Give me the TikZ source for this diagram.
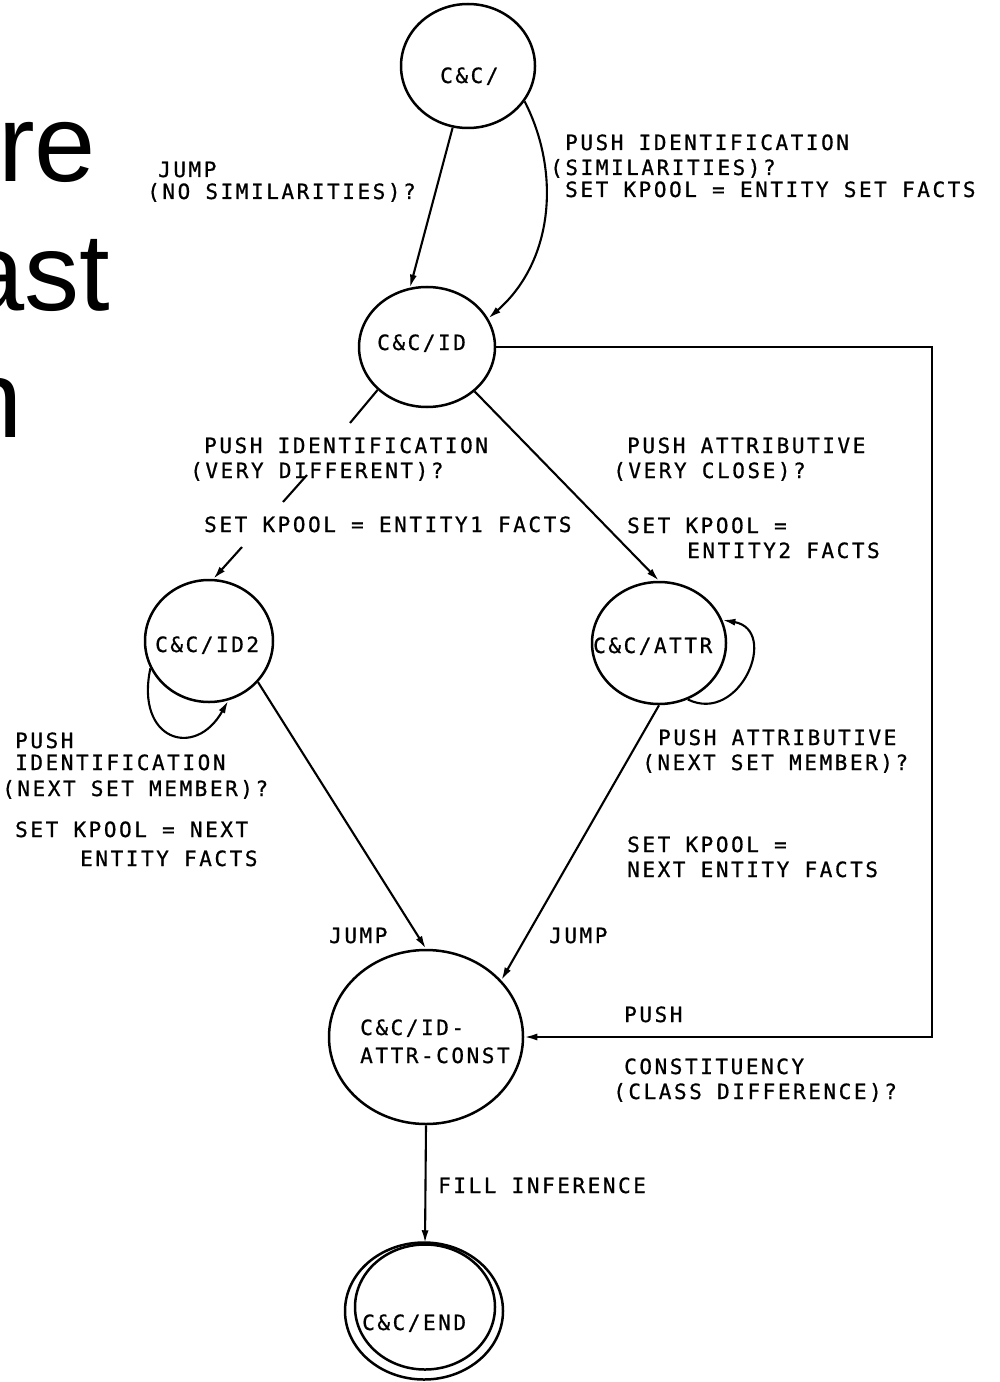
\documentclass[tikz,border=0pt]{standalone}
\usepackage{fontspec}
\usetikzlibrary{shapes.geometric,arrows.meta}
\newfontfamily\twfont[LetterSpace=12.2,FakeBold=0.8]{DejaVu Sans Mono}
\newfontfamily\slidefont{Liberation Sans}
\begin{document}
\begin{tikzpicture}[x=1bp,y=-1bp,
  st/.style={draw, ellipse, line width=2.5bp, inner sep=0pt},
  lab/.style={anchor=base west, inner sep=0pt, font=\twfont\fontsize{21bp}{21bp}\selectfont},
  slide/.style={anchor=base west, inner sep=0pt, font=\slidefont\fontsize{110bp}{110bp}\selectfont},
  ln/.style={line width=2.1bp},
  arr/.style={line width=2.1bp, -{Latex[length=13bp,width=7bp]}}]
\useasboundingbox (0,0) rectangle (999,1382);
\clip (0,0) rectangle (999,1382);

% slide text fragments
\node[slide] (s1) at (-2,182) {re};
\node[slide] (s2) at (-37,310) {ast};
\node[slide] (s3) at (-39,437) {n};

% states
\node[st, minimum width=134bp, minimum height=124bp] (A) at (468,66) {};
\node[st, minimum width=136bp, minimum height=120bp] (B) at (427,347) {};
\node[st, minimum width=128bp, minimum height=122bp] (C) at (209,641) {};
\node[st, minimum width=134bp, minimum height=122bp] (D) at (659,643) {};
\node[st, minimum width=194bp, minimum height=174bp] (E) at (426,1037) {};
\node[st, minimum width=140bp, minimum height=125bp] (F) at (425,1307) {};
\node[st, minimum width=158bp, minimum height=137bp] (F2) at (424,1311) {};

\node[lab] (tA) at (440,83) {C\&C/};
\node[lab] (tB) at (377,350) {C\&C/ID};
\node[lab] (tC) at (155,652) {C\&C/ID2};
\node[lab] (tD) at (593,653) {C\&C/ATTR};
\node[lab] (tE1) at (360,1035) {C\&C/ID-};
\node[lab] (tE2) at (360,1063) {ATTR-CONST};
\node[lab] (tF) at (362,1330) {C\&C/END};

% connectors
\draw[arr] (A.-104) -- (B.106);
\draw[arr] (A.-32) .. controls (560,170) and (555,260) .. (B.25);
\coordinate (b1) at (350,423);
\coordinate (b2) at (307,475);
\coordinate (b3) at (283,502);
\coordinate (b4) at (242,547);
\draw[ln] (B.-139) -- (b1);
\draw[ln] (b2) -- (b3);
\draw[arr] (b4) -- (C.86);
\draw[arr] (B.-43) -- (D.90);
\coordinate (vx) at (932,700);
\draw[arr] (B.east) -| (vx) |- (E.east);
\draw[arr] (C.-155) .. controls (135,740) and (195,760) .. (C.-72);
\draw[arr] (D.-63) .. controls (740,725) and (780,630) .. (D.20);
\draw[arr] (C.-40) -- (E.90);
\draw[arr] (D.-90) -- (E.37);
\draw[arr] (E.south) -- (F.north);

% labels
\node[lab] (l1) at (158,177) {JUMP};
\node[lab] (l2) at (147,199) {(NO SIMILARITIES)?};
\node[lab] (l3) at (565,150) {PUSH IDENTIFICATION};
\node[lab] (l4) at (550,175) {(SIMILARITIES)?};
\node[lab] (l5) at (565,197) {SET KPOOL = ENTITY SET FACTS};
\node[lab] (l6) at (204,453) {PUSH IDENTIFICATION};
\node[lab] (l7) at (190,478) {(VERY DIFFERENT)?};
\node[lab] (l8) at (204,532) {SET KPOOL = ENTITY1 FACTS};
\node[lab] (l9) at (627,453) {PUSH ATTRIBUTIVE};
\node[lab] (l10) at (613,478) {(VERY CLOSE)?};
\node[lab] (l11) at (627,533) {SET KPOOL =};
\node[lab] (l12) at (687,558) {ENTITY2 FACTS};
\node[lab] (l13) at (15,748) {PUSH};
\node[lab] (l14) at (15,770) {IDENTIFICATION};
\node[lab] (l15) at (2,796) {(NEXT SET MEMBER)?};
\node[lab] (l16) at (15,837) {SET KPOOL = NEXT};
\node[lab] (l17) at (80,866) {ENTITY FACTS};
\node[lab] (l18) at (658,745) {PUSH ATTRIBUTIVE};
\node[lab] (l19) at (642,770) {(NEXT SET MEMBER)?};
\node[lab] (l20) at (627,852) {SET KPOOL =};
\node[lab] (l21) at (627,877) {NEXT ENTITY FACTS};
\node[lab] (l22) at (329,943) {JUMP};
\node[lab] (l23) at (549,943) {JUMP};
\node[lab] (l24) at (624,1022) {PUSH};
\node[lab] (l25) at (624,1074) {CONSTITUENCY};
\node[lab] (l26) at (613,1099) {(CLASS DIFFERENCE)?};
\node[lab] (l27) at (438,1193) {FILL INFERENCE};
\end{tikzpicture}
\end{document}
